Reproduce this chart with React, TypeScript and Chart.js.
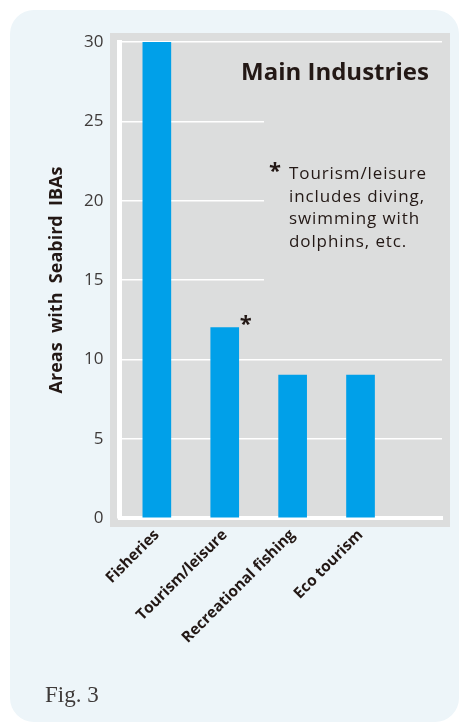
import React, { useEffect, useRef } from "react";
import { Chart, registerables } from "chart.js";

Chart.register(...registerables);

const categories: string[] = ["Fisheries", "Tourism/leisure", "Recreational fishing", "Eco tourism"];
const areaCounts: number[] = [30, 12, 9, 9];
const yTicks: number[] = [0, 5, 10, 15, 20, 25, 30];
const starredCategory = "Tourism/leisure";
const noteLines: string[] = ["Tourism/leisure", "includes diving,", "swimming with", "dolphins, etc."];

const TEXT = "#231815";
const PANEL = "#edf5f9";
const PLOT_BG = "#dcdddd";
const BAR = "#00a0e9";

const plotPlugin = {
  id: "plotDecor",
  beforeDraw(chart: any) {
    const { ctx, chartArea } = chart;
    ctx.save();
    ctx.fillStyle = PLOT_BG;
    ctx.fillRect(chartArea.left - 9.5, chartArea.top - 9, chartArea.right - chartArea.left + 17.5, chartArea.bottom - chartArea.top + 18);
    ctx.restore();
  },
  beforeDatasetsDraw(chart: any) {
    const { ctx, chartArea } = chart;
    ctx.save();
    ctx.fillStyle = PLOT_BG;
    ctx.fillRect(264, 60, chartArea.right - 264 + 2, 240);
    ctx.restore();
  },
  afterDatasetsDraw(chart: any) {
    const { ctx } = chart;
    const idx = categories.indexOf(starredCategory);
    const bar: any = chart.getDatasetMeta(0).data[idx];
    if (!bar) return;
    ctx.save();
    ctx.fillStyle = TEXT;
    ctx.font = "bold 22px 'Open Sans'";
    ctx.textAlign = "center";
    ctx.textBaseline = "middle";
    ctx.fillText("*", bar.x + bar.width / 2 + 7, bar.y - 3);
    ctx.restore();
  },
};

function BarChart() {
  const ref = useRef<HTMLCanvasElement | null>(null);
  useEffect(() => {
    if (!ref.current) return;
    const chart = new Chart(ref.current, {
      type: "bar",
      data: {
        datasets: [
          {
            data: categories.map((c, i) => ({ x: i, y: areaCounts[i] })),
            backgroundColor: BAR,
            barThickness: 28,
            borderWidth: 0,
          },
        ],
      },
      options: {
        animation: false,
        responsive: false,
        maintainAspectRatio: false,
        layout: { padding: { left: 42, right: 17, top: 42, bottom: 0 } },
        plugins: { legend: { display: false }, tooltip: { enabled: false } },
        scales: {
          x: {
            type: "linear",
            min: -0.55,
            max: 4.2,
            offset: false,
            z: 1,
            afterBuildTicks: (scale: any) => {
              scale.ticks = categories.map((c, i) => ({ value: i }));
            },
            afterFit: (scale: any) => {
              scale.height = 204;
            },
            grid: { display: false, drawTicks: false, offset: false },
            border: { display: true, color: "#ffffff", width: 4 },
            ticks: {
              autoSkip: false,
              minRotation: 45,
              maxRotation: 45,
              padding: 8,
              color: TEXT,
              font: { family: "'Open Sans'", size: 15.3, weight: "bold" },
              callback: (v: any) => categories[v] ?? "",
            },
          },
          y: {
            min: 0,
            max: 30,
            afterBuildTicks: (scale: any) => {
              scale.ticks = yTicks.map((v) => ({ value: v }));
            },
            afterFit: (scale: any) => {
              scale.width = 77.5;
            },
            grid: { color: "#ffffff", lineWidth: 1.5, drawTicks: false },
            border: { display: true, color: "#ffffff", width: 5 },
            ticks: {
              padding: 16,
              color: "#3e3a39",
              font: { family: "'Open Sans'", size: 17 },
            },
            title: {
              display: true,
              text: "Areas  with  Seabird  IBAs",
              color: TEXT,
              font: { family: "'Open Sans'", size: 18, weight: "bold" },
              padding: { top: 4, bottom: 4 },
            },
          },
        },
      },
      plugins: [plotPlugin],
    } as any);
    return () => chart.destroy();
  }, []);
  return <canvas ref={ref} width={459} height={722} style={{ position: "absolute", left: 0, top: 0 }} />;
}

export default function App() {
  return (
    <div style={{ position: "fixed", left: 0, top: 0, width: 459, height: 722, background: "#ffffff", overflow: "hidden" }}>
      <div style={{ position: "absolute", left: 10, top: 10, width: 449, height: 712, borderRadius: 24, background: PANEL }} />
      <BarChart />
      <div
        style={{
          position: "absolute",
          left: 241,
          top: 58.7,
          font: "bold 24px 'Open Sans'",
          lineHeight: "24px",
          color: TEXT,
          whiteSpace: "nowrap",
        }}
      >
        Main Industries
      </div>
      <div
        style={{
          position: "absolute",
          left: 269,
          top: 158,
          font: "bold 22px 'Open Sans'",
          lineHeight: "22px",
          color: TEXT,
        }}
      >
        *
      </div>
      <div
        style={{
          position: "absolute",
          left: 289,
          top: 162,
          font: "17px 'Open Sans'",
          lineHeight: "22.5px",
          letterSpacing: "0.9px",
          color: TEXT,
          whiteSpace: "nowrap",
        }}
      >
        {noteLines.map((l) => (
          <div key={l}>{l}</div>
        ))}
      </div>
      <div
        style={{
          position: "absolute",
          left: 45,
          top: 683,
          font: "23px 'Liberation Serif'",
          lineHeight: "23px",
          color: "#3e3a39",
          whiteSpace: "nowrap",
        }}
      >
        Fig. 3
      </div>
    </div>
  );
}
